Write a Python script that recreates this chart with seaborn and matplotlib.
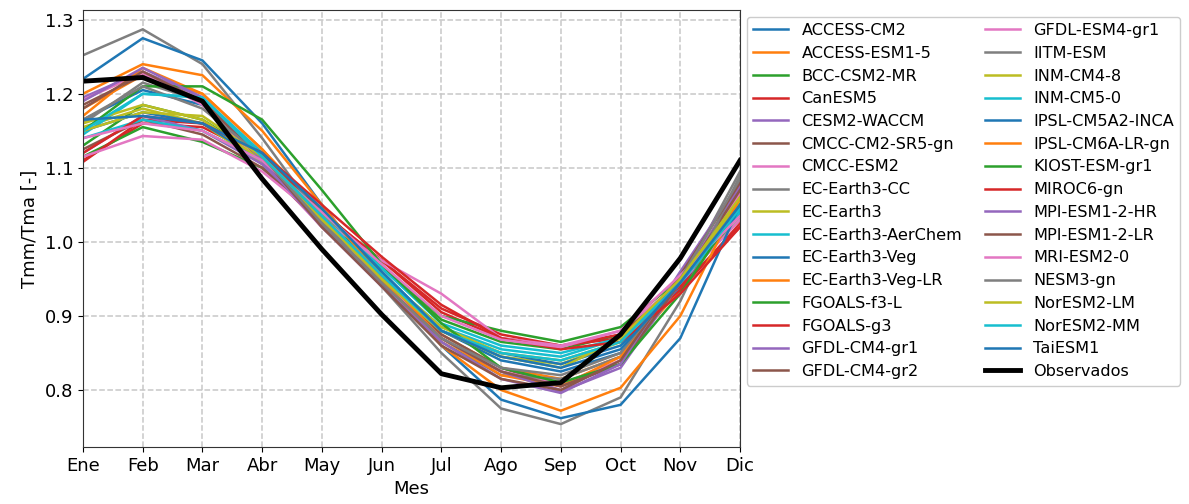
import matplotlib
matplotlib.use("Agg")
import matplotlib.pyplot as plt
import seaborn as sns
import pandas as pd

meses = ["Ene", "Feb", "Mar", "Abr", "May", "Jun", "Jul", "Ago", "Sep", "Oct", "Nov", "Dic"]

modelos = [
    "ACCESS-CM2", "ACCESS-ESM1-5", "BCC-CSM2-MR", "CanESM5", "CESM2-WACCM",
    "CMCC-CM2-SR5-gn", "CMCC-ESM2", "EC-Earth3-CC", "EC-Earth3", "EC-Earth3-AerChem",
    "EC-Earth3-Veg", "EC-Earth3-Veg-LR", "FGOALS-f3-L", "FGOALS-g3", "GFDL-CM4-gr1",
    "GFDL-CM4-gr2", "GFDL-ESM4-gr1", "IITM-ESM", "INM-CM4-8", "INM-CM5-0",
    "IPSL-CM5A2-INCA", "IPSL-CM6A-LR-gn", "KIOST-ESM-gr1", "MIROC6-gn", "MPI-ESM1-2-HR",
    "MPI-ESM1-2-LR", "MRI-ESM2-0", "NESM3-gn", "NorESM2-LM", "NorESM2-MM", "TaiESM1",
]

# Cociente Tmm/Tma por modelo, de enero a diciembre
valores = [
    [1.165, 1.205, 1.185, 1.120, 1.040, 0.960, 0.880, 0.840, 0.825, 0.850, 0.935, 1.045],
    [1.180, 1.225, 1.200, 1.125, 1.035, 0.955, 0.875, 0.830, 0.815, 0.845, 0.935, 1.050],
    [1.130, 1.185, 1.165, 1.115, 1.045, 0.965, 0.895, 0.865, 0.855, 0.875, 0.945, 1.045],
    [1.110, 1.160, 1.155, 1.115, 1.040, 0.975, 0.905, 0.870, 0.860, 0.870, 0.935, 1.025],
    [1.195, 1.230, 1.195, 1.115, 1.025, 0.945, 0.870, 0.825, 0.800, 0.840, 0.950, 1.070],
    [1.185, 1.225, 1.190, 1.110, 1.020, 0.945, 0.875, 0.830, 0.805, 0.835, 0.945, 1.075],
    [1.192, 1.228, 1.185, 1.105, 1.020, 0.950, 0.870, 0.825, 0.808, 0.840, 0.955, 1.065],
    [1.160, 1.215, 1.190, 1.120, 1.030, 0.940, 0.865, 0.820, 0.815, 0.845, 0.945, 1.095],
    [1.155, 1.180, 1.160, 1.105, 1.030, 0.950, 0.880, 0.845, 0.835, 0.865, 0.950, 1.060],
    [1.145, 1.200, 1.195, 1.120, 1.035, 0.955, 0.885, 0.855, 0.845, 0.870, 0.945, 1.040],
    [1.150, 1.175, 1.160, 1.110, 1.035, 0.955, 0.880, 0.850, 0.835, 0.860, 0.940, 1.040],
    [1.170, 1.235, 1.200, 1.125, 1.040, 0.955, 0.870, 0.820, 0.805, 0.845, 0.950, 1.055],
    [1.115, 1.155, 1.135, 1.100, 1.030, 0.965, 0.900, 0.880, 0.865, 0.885, 0.950, 1.030],
    [1.108, 1.165, 1.160, 1.120, 1.040, 0.975, 0.910, 0.875, 0.860, 0.875, 0.940, 1.020],
    [1.120, 1.170, 1.150, 1.105, 1.025, 0.945, 0.870, 0.825, 0.798, 0.830, 0.945, 1.075],
    [1.125, 1.165, 1.145, 1.100, 1.025, 0.945, 0.870, 0.825, 0.805, 0.835, 0.945, 1.070],
    [1.115, 1.143, 1.138, 1.095, 1.030, 0.975, 0.930, 0.870, 0.860, 0.880, 0.945, 1.030],
    [1.252, 1.287, 1.240, 1.140, 1.030, 0.940, 0.850, 0.775, 0.754, 0.790, 0.920, 1.090],
    [1.160, 1.185, 1.165, 1.110, 1.030, 0.955, 0.885, 0.850, 0.840, 0.865, 0.950, 1.055],
    [1.140, 1.165, 1.150, 1.110, 1.040, 0.965, 0.890, 0.860, 0.850, 0.870, 0.945, 1.040],
    [1.220, 1.275, 1.245, 1.160, 1.050, 0.950, 0.860, 0.787, 0.762, 0.780, 0.870, 1.050],
    [1.200, 1.240, 1.225, 1.150, 1.050, 0.950, 0.860, 0.800, 0.772, 0.803, 0.900, 1.060],
    [1.150, 1.210, 1.210, 1.165, 1.070, 0.970, 0.890, 0.830, 0.810, 0.835, 0.930, 1.050],
    [1.120, 1.170, 1.160, 1.120, 1.050, 0.980, 0.915, 0.870, 0.855, 0.865, 0.930, 1.020],
    [1.190, 1.235, 1.195, 1.110, 1.020, 0.940, 0.865, 0.815, 0.796, 0.835, 0.960, 1.080],
    [1.180, 1.230, 1.190, 1.115, 1.020, 0.940, 0.860, 0.815, 0.800, 0.840, 0.955, 1.080],
    [1.140, 1.160, 1.150, 1.110, 1.040, 0.970, 0.900, 0.868, 0.858, 0.880, 0.955, 1.035],
    [1.165, 1.210, 1.180, 1.115, 1.025, 0.945, 0.870, 0.830, 0.820, 0.850, 0.950, 1.085],
    [1.150, 1.175, 1.170, 1.115, 1.035, 0.950, 0.880, 0.845, 0.830, 0.870, 0.950, 1.060],
    [1.150, 1.200, 1.195, 1.115, 1.035, 0.955, 0.880, 0.850, 0.840, 0.865, 0.945, 1.045],
    [1.165, 1.170, 1.160, 1.120, 1.045, 0.960, 0.880, 0.845, 0.830, 0.855, 0.945, 1.050],
]

observados = [1.217, 1.222, 1.190, 1.085, 0.990, 0.902, 0.822, 0.803, 0.810, 0.875, 0.978, 1.110]

filas = []
for nombre, serie in zip(modelos, valores):
    for i, v in enumerate(serie):
        filas.append({"mes": i, "modelo": nombre, "ratio": v})
df = pd.DataFrame(filas)
df_obs = pd.DataFrame({"mes": range(len(meses)), "ratio": observados})

fig = plt.figure(figsize=(11.89, 5.04), dpi=100)
ax = fig.add_axes([0.0698, 0.113, 0.5526, 0.867])

paleta = [sns.color_palette("tab10")[i % 10] for i in range(len(modelos))]
sns.lineplot(data=df, x="mes", y="ratio", hue="modelo", palette=paleta,
             hue_order=modelos, linewidth=1.8, sort=False, ax=ax)
sns.lineplot(data=df_obs, x="mes", y="ratio", color="black", linewidth=3.5,
             label="Observados", sort=False, ax=ax)

ax.set_xlim(0, 11)
ax.set_ylim(0.723, 1.313)
ax.set_xticks(range(len(meses)))
ax.set_xticklabels(meses)
ax.tick_params(labelsize=13)
ax.set_xlabel("Mes", fontsize=13)
ax.set_ylabel("Tmm/Tma [-]", fontsize=13)
ax.grid(True, linestyle="--", color="#c8c8c8", linewidth=1.1)
for s in ax.spines.values():
    s.set_color("#333333")

handles, labels = ax.get_legend_handles_labels()
ax.legend(handles, labels, ncol=2, loc="upper left", bbox_to_anchor=(1.01, 0.985),
          fontsize=11.6, handlelength=2.2, columnspacing=1.4, labelspacing=0.48,
          borderaxespad=0.0, framealpha=1.0)

fig.savefig("out.png", dpi=100)
